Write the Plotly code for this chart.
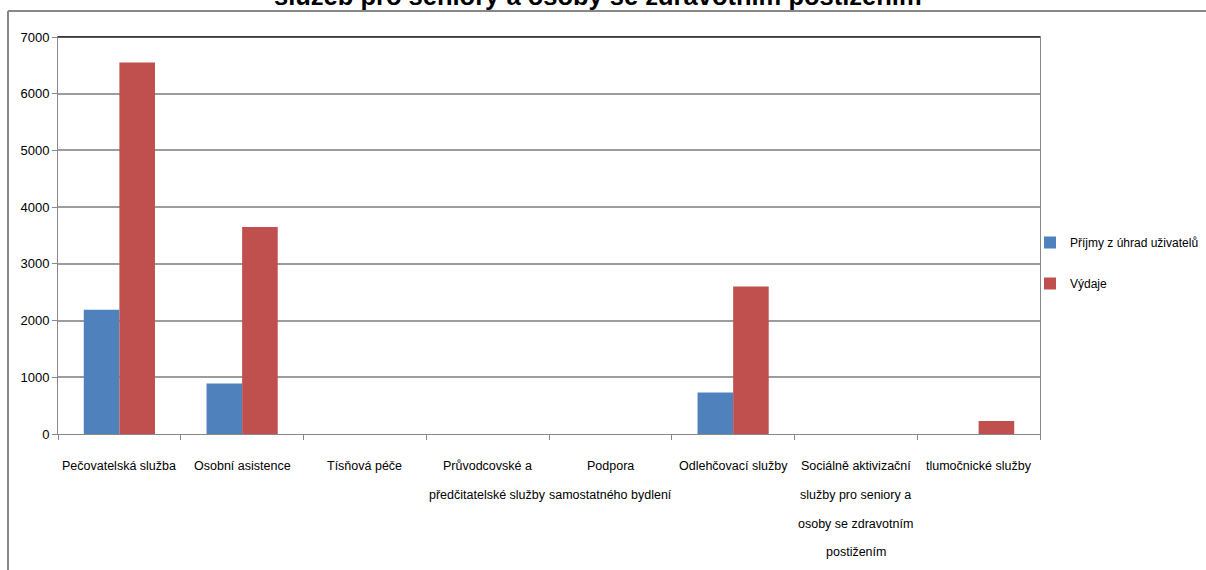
import plotly.graph_objects as go

categories = [
    "Pečovatelská služba",
    "Osobní asistence",
    "Tísňová péče",
    "Průvodcovské a<br>předčitatelské služby",
    "Podpora<br>samostatného bydlení",
    "Odlehčovací služby",
    "Sociálně aktivizační<br>služby pro seniory a<br>osoby se zdravotním<br>postižením",
    "tlumočnické služby",
]
prijmy = [2190, 890, 0, 0, 0, 730, 0, 0]
vydaje = [6550, 3650, 0, 0, 0, 2600, 0, 230]
series_names = ["Příjmy z úhrad uživatelů", "Výdaje"]
y_ticks = [0, 1000, 2000, 3000, 4000, 5000, 6000, 7000]
title_text = "služeb pro seniory a osoby se zdravotním postižením"

FONT = "Liberation Sans, Arial, sans-serif"

fig = go.Figure()
fig.add_trace(go.Bar(x=categories, y=prijmy, name=series_names[0],
                     marker=dict(color="#4F81BD", line=dict(width=0)),
                     legendgroup="a"))
fig.add_trace(go.Bar(x=categories, y=vydaje, name=series_names[1],
                     marker=dict(color="#C0504D", line=dict(width=0)),
                     legendgroup="b"))

L, R, T, B = 58, 166, 37, 136
W, H = 1206, 570
pw = W - L - R
ph = H - T - B

def px(x):
    return (x - L) / pw

def py(y):
    return (H - B - y) / ph

fig.update_layout(
    width=W, height=H,
    margin=dict(l=L, r=R, t=T, b=B, pad=0, autoexpand=False),
    paper_bgcolor="white", plot_bgcolor="white",
    barmode="group", bargap=0.42, bargroupgap=0,
    font=dict(family=FONT, size=12, color="black"),
    showlegend=True,
    legend=dict(xref="container", yref="container",
                x=1030 / W, xanchor="left", y=1 - 228 / H, yanchor="top",
                font=dict(family=FONT, size=12, color="black"),
                tracegroupgap=22, bgcolor="rgba(0,0,0,0)"),
    xaxis=dict(
        type="category", tickson="boundaries", ticks="outside", ticklen=5,
        tickcolor="#888888", showline=True, linecolor="#888888", linewidth=1,
        mirror=True, showgrid=False, showticklabels=False,
    ),
    yaxis=dict(
        range=[0, 7000], tickvals=y_ticks, ticks="outside", ticklen=5,
        tickcolor="#888888", showline=True, linecolor="#888888", linewidth=1,
        mirror=True, showgrid=True, gridcolor="#9C9C9C", gridwidth=1.5,
        zeroline=False, tickfont=dict(family=FONT, size=13, color="black"),
    ),
)

# category labels, one text per line (wider line spacing than tick labels allow)
for cat in categories:
    for i, line in enumerate(cat.split("<br>")):
        fig.add_annotation(text=line, xref="x", yref="paper", x=cat,
                           y=py(466 + 28.8 * i), xanchor="center", yanchor="middle",
                           showarrow=False,
                           font=dict(family=FONT, size=12.5, color="black"))

# plot-area top border (dark) and outer frame lines
fig.add_shape(type="line", xref="paper", yref="paper", x0=0, x1=1, y0=1, y1=1,
              line=dict(color="#222222", width=1.5))
fig.add_shape(type="line", xref="paper", yref="paper", x0=px(8), x1=px(1210),
              y0=py(11), y1=py(11), line=dict(color="#888888", width=2))
fig.add_shape(type="line", xref="paper", yref="paper", x0=px(8), x1=px(8),
              y0=py(11), y1=py(575), line=dict(color="#888888", width=2))

fig.add_annotation(text="<b>" + title_text + "</b>", xref="paper", yref="paper",
                   x=px(598), y=py(-4), xanchor="center", yanchor="middle",
                   showarrow=False,
                   font=dict(family="Liberation Sans, Arial, sans-serif", size=25.5, color="black"))

fig.write_html("out.html", config={"displayModeBar": False},
               post_script="document.body.style.margin='0';document.body.style.overflow='hidden';")
